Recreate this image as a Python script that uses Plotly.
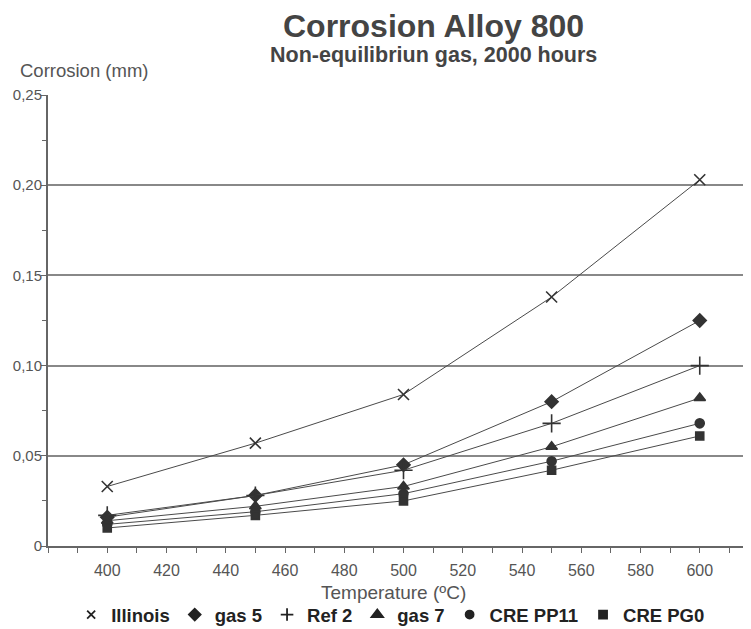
import plotly.graph_objects as go

temperature = [400, 450, 500, 550, 600]
illinois = [0.033, 0.057, 0.084, 0.138, 0.203]
gas5 = [0.016, 0.028, 0.045, 0.080, 0.125]
ref2 = [0.017, 0.028, 0.042, 0.068, 0.100]
gas7 = [0.014, 0.022, 0.033, 0.055, 0.082]
cre_pp11 = [0.012, 0.019, 0.029, 0.047, 0.068]
cre_pg0 = [0.010, 0.017, 0.025, 0.042, 0.061]

series_names = ["Illinois", "gas 5", "Ref 2", "gas 7", "CRE PP11", "CRE PG0"]
series_values = [illinois, gas5, ref2, gas7, cre_pp11, cre_pg0]
x_tick_vals = [400, 420, 440, 460, 480, 500, 520, 540, 560, 580, 600]
y_tick_vals = [0, 0.05, 0.10, 0.15, 0.20, 0.25]
y_tick_text = ["0", "0,05", "0,10", "0,15", "0,20", "0,25"]

symbols = ["x-thin-open", "diamond", "cross-thin-open", "triangle-up", "circle", "square"]
sizes = [11, 10, 13, 10, 9, 8]
legend_sizes = [8, 9, 9, 10, 8, 8]
ink = "#333333"
FONT = "Liberation Sans, Arial, sans-serif"

fig = go.Figure()
for name, vals, sym, sz in zip(series_names, series_values, symbols, sizes):
    fig.add_trace(go.Scatter(
        x=temperature, y=vals, mode="lines+markers", name=name, showlegend=False,
        line=dict(color="#4a4a4a", width=1),
        marker=dict(symbol=sym, size=sz, color=ink, line=dict(color=ink, width=1.6)),
    ))
for name, sym, sz in zip(series_names, symbols, legend_sizes):
    fig.add_trace(go.Scatter(
        x=[None], y=[None], mode="markers", name=name,
        marker=dict(symbol=sym, size=sz, color="#222", line=dict(color="#222", width=1.8)),
    ))

fig.update_layout(
    width=743, height=621,
    margin=dict(l=40, r=0, t=87, b=83),
    paper_bgcolor="white", plot_bgcolor="white",
    font=dict(family=FONT, color="#555"),
    showlegend=True,
    legend=dict(orientation="h", x=0.515, xanchor="center", xref="container",
                y=0.0225, yanchor="middle", yref="container",
                font=dict(size=18.5, color="#222", family=FONT, weight="bold"),
                itemwidth=30, tracegroupgap=0),
    xaxis=dict(range=[380, 617.3], tickvals=x_tick_vals, automargin=False,
               ticks="outside", ticklen=5, tickcolor="#666", showgrid=False,
               showline=True, linecolor="#666", linewidth=2,
               minor=dict(dtick=10, tick0=380, ticks="outside", ticklen=5, tickcolor="#666", showgrid=False),
               tickfont=dict(size=16, color="#555"), ticklabelstandoff=4,
               zeroline=False),
    yaxis=dict(range=[0, 0.25], tickvals=y_tick_vals, ticktext=y_tick_text, automargin=False,
               ticks="outside", ticklen=5, tickcolor="#666",
               showgrid=True, gridcolor="#888", gridwidth=1.5,
               showline=True, linecolor="#666", linewidth=2,
               minor=dict(dtick=0.025, ticks="outside", ticklen=4, tickcolor="#666", showgrid=False),
               tickfont=dict(size=15, color="#555"), ticklabelstandoff=-4, zeroline=False),
    annotations=[
        dict(text="Corrosion Alloy 800", xref="paper", yref="paper", x=0.548, y=1.0,
             yshift=69, xanchor="center", yanchor="middle", showarrow=False,
             font=dict(size=32, color="#444", family=FONT, weight="bold")),
        dict(text="Non-equilibriun gas, 2000 hours", xref="paper", yref="paper", x=0.548, y=1.0,
             yshift=40, xanchor="center", yanchor="middle", showarrow=False,
             font=dict(size=21.5, color="#444", family=FONT, weight="bold")),
        dict(text="Corrosion (mm)", xref="paper", yref="paper", x=0, y=1.0, xshift=-30,
             yshift=25, xanchor="left", yanchor="middle", showarrow=False,
             font=dict(size=18.5, color="#555")),
        dict(text="Temperature (ºC)", xref="paper", yref="paper", x=0.491, y=0,
             yshift=-46, xanchor="center", yanchor="middle", showarrow=False,
             font=dict(size=19, color="#555")),
    ],
)

fig.write_html("out.html")
